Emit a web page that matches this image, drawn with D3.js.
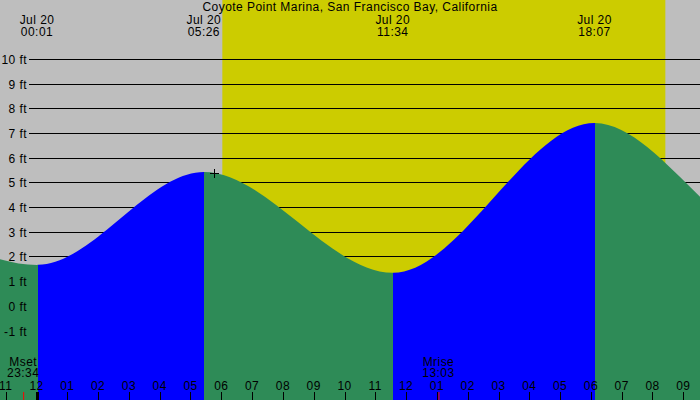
<!DOCTYPE html>
<html>
<head>
<meta charset="utf-8">
<script src="https://cdn.jsdelivr.net/npm/d3@7"></script>
<style>
  html, body { margin: 0; padding: 0; background: #fff; }
  svg { display: block; }
  text { font-family: 'Liberation Sans', Arial, sans-serif; font-size: 12px; letter-spacing: 0.45px; fill: #000; }
</style>
</head>
<body>
<svg id="chart" width="700" height="400"></svg>
<script>
const chartTitle = "Coyote Point Marina, San Francisco Bay, California";

// tide extremes (local time) and heights in ft; first/last are just off-screen
const tideTimes = ["2024-07-19 10:45", "2024-07-19 17:00", "2024-07-20 00:01", "2024-07-20 05:26",
                   "2024-07-20 11:34", "2024-07-20 18:07", "2024-07-21 00:07", "2024-07-21 06:20"];
const tideHeights = [1.0, 4.6, 1.68, 5.44, 1.36, 7.42, 2.5, 5.0];

const sunTimes = ["2024-07-20 06:02", "2024-07-20 20:25"];   // sunrise, sunset
const moonLabels = ["Mset", "Mrise"];
const moonTimes = ["2024-07-19 23:34", "2024-07-20 13:03"];

const heightTicks = [-1, 0, 1, 2, 3, 4, 5, 6, 7, 8, 9, 10];
const markerTime = "2024-07-20 05:46";
const markerHeight = 5.41;

const parse = d3.timeParse("%Y-%m-%d %H:%M");
const fmtDay = d3.timeFormat("%b %d");
const fmtHM = d3.timeFormat("%H:%M");
const fmtHour = d3.timeFormat("%I");

const tide = tideTimes.map((t, i) => ({ time: parse(t), h: tideHeights[i] }));

const width = 700, height = 400;

const svg = d3.select("#chart");

const x = d3.scaleTime()
    .domain([parse("2024-07-20 00:00"), parse("2024-07-20 21:00")])
    .range([36.5, 683.3]);
const y = d3.scaleLinear().domain([-1, 10]).range([331.1, 59.3]);

// background: night grey, day yellow
svg.append("rect").attr("width", width).attr("height", height).attr("fill", "#bebebe");
svg.append("rect")
    .attr("x", x(parse(sunTimes[0])))
    .attr("width", x(parse(sunTimes[1])) - x(parse(sunTimes[0])))
    .attr("y", 0).attr("height", height)
    .attr("fill", "#cccc00");

// grid lines
svg.append("g").selectAll("line").data(heightTicks).join("line")
    .attr("x1", 29).attr("x2", width)
    .attr("y1", d => Math.floor(y(d)) + 0.5)
    .attr("y2", d => Math.floor(y(d)) + 0.5)
    .attr("stroke", "#000").attr("stroke-width", 1);

// tide area, coloured by rising / falling
const area = d3.area()
    .x(d => x(d.time))
    .y0(height)
    .y1(d => y(d.h))
    .curve(d3.curveMonotoneX);
const areaPath = area(tide);

const defs = svg.append("defs");
const tideG = svg.append("g");
for (let i = 0; i < tide.length - 1; i++) {
    const a = tide[i], b = tide[i + 1];
    const x0 = Math.ceil(x(a.time)), x1 = Math.ceil(x(b.time));
    defs.append("clipPath").attr("id", "seg" + i)
        .append("rect").attr("x", x0).attr("y", 0)
        .attr("width", x1 - x0).attr("height", height);
    tideG.append("path")
        .attr("d", areaPath)
        .attr("clip-path", `url(#seg${i})`)
        .attr("fill", b.h > a.h ? "#0000ff" : "#2e8b57");
}

// y labels
svg.append("g").selectAll("text").data(heightTicks).join("text")
    .attr("x", 27)
    .attr("y", d => y(d) + 4.5)
    .attr("text-anchor", "end")
    .text(d => d + " ft");

// title
svg.append("text")
    .attr("x", width / 2).attr("y", 11)
    .attr("text-anchor", "middle")
    .text(chartTitle);

// extreme labels at the top
const visible = tide.filter(d => x(d.time) >= 0 && x(d.time) <= width);
const topG = svg.append("g").selectAll("g").data(visible).join("g")
    .attr("transform", d => `translate(${x(d.time)},0)`);
topG.append("text").attr("y", 24).attr("text-anchor", "middle")
    .text(d => fmtDay(d.time));
topG.append("text").attr("y", 36).attr("text-anchor", "middle")
    .text(d => fmtHM(d.time));

// hour axis at the bottom
const hours = d3.timeHour.range(d3.timeHour.ceil(x.invert(0)), x.invert(width));
const axisG = svg.append("g");
axisG.selectAll("line").data(hours).join("line")
    .attr("x1", d => Math.round(x(d)) + 0.5).attr("x2", d => Math.round(x(d)) + 0.5)
    .attr("y1", 392).attr("y2", height)
    .attr("stroke", "#000")
    .attr("stroke-width", d => d.getHours() === 0 ? 3 : 1);
axisG.selectAll("text").data(hours).join("text")
    .attr("x", d => x(d)).attr("y", 390)
    .attr("text-anchor", "middle")
    .text(d => fmtHour(d));

// moon events
const moon = moonTimes.map((t, i) => ({ time: parse(t), label: moonLabels[i] }));
const moonG = svg.append("g").selectAll("g").data(moon).join("g")
    .attr("transform", d => `translate(${x(d.time)},0)`);
moonG.append("line").attr("x1", 0.5).attr("x2", 0.5).attr("y1", 392).attr("y2", height)
    .attr("stroke", "#ff0000").attr("stroke-width", 1);
moonG.append("text").attr("y", 366).attr("text-anchor", "middle")
    .text(d => d.label);
moonG.append("text").attr("y", 377).attr("text-anchor", "middle")
    .text(d => fmtHM(d.time));

// current-time marker
const mx = Math.round(x(parse(markerTime))), my = Math.round(y(markerHeight));
svg.append("path")
    .attr("d", `M${mx - 4},${my + 0.5}H${mx + 5}M${mx + 0.5},${my - 4}V${my + 5}`)
    .attr("stroke", "#000").attr("stroke-width", 1).attr("fill", "none");
</script>
</body>
</html>
